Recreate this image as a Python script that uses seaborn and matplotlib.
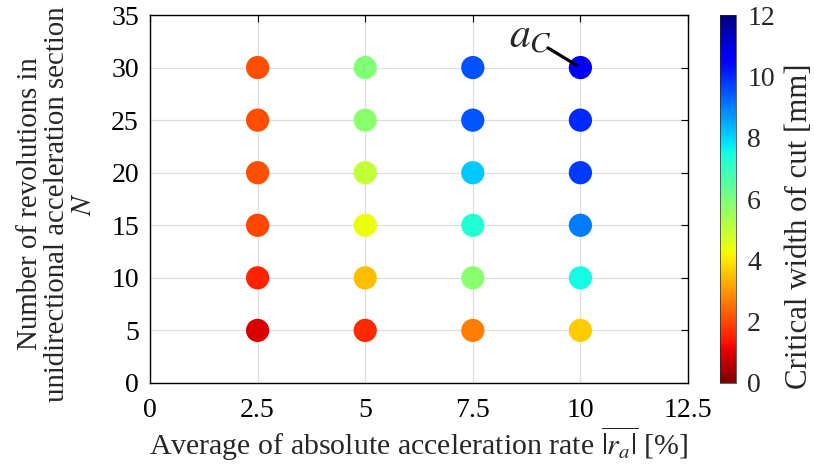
import numpy as np
import pandas as pd
import matplotlib
matplotlib.use("Agg")
import matplotlib.pyplot as plt
import seaborn as sns

# Data
rates = [2.5, 5.0, 7.5, 10.0]
revolutions = [5, 10, 15, 20, 25, 30]
# critical width of cut [mm]; rows = revolutions (5..30), cols = rates
width_cut = [
    [0.95, 1.6, 2.7, 3.7],   # N=5
    [1.5, 3.5, 5.8, 7.5],    # N=10
    [2.0, 4.4, 7.3, 9.0],    # N=15
    [2.1, 5.0, 8.15, 9.8],   # N=20
    [2.1, 5.8, 9.5, 10.0],   # N=25
    [2.1, 5.95, 9.55, 10.7], # N=30
]
x_ticklabels = ["0", "2.5", "5", "7.5", "10", "12.5"]

rows = []
for i, n in enumerate(revolutions):
    for j, r in enumerate(rates):
        rows.append({"rate": r, "N": n, "w": width_cut[i][j]})
df = pd.DataFrame(rows)

sns.set_style("white")
plt.rcParams["font.family"] = ["Liberation Serif", "DejaVu Serif"]
plt.rcParams["mathtext.fontset"] = "stix"

FS = 20
fig = plt.figure(figsize=(8.14, 4.65), dpi=100)
ax = fig.add_axes([150/814, 1-383/465, (688-150)/814, (383-15)/465])
cax = fig.add_axes([720/814, 1-383/465, 16/814, (383-15)/465])

norm = matplotlib.colors.Normalize(0, 12)
sns.scatterplot(data=df, x="rate", y="N", hue="w", palette="jet_r", hue_norm=(0, 12),
                s=280, linewidth=0, legend=False, ax=ax, zorder=3)

ax.set_xlim(0, 12.5)
ax.set_ylim(0, 35)
ax.set_xticks([0, 2.5, 5, 7.5, 10, 12.5])
ax.set_xticklabels(x_ticklabels)
ax.set_yticks(range(0, 36, 5))
ax.grid(True, color="#dedede", linewidth=0.9, zorder=0)
ax.set_axisbelow(True)
for sp in ax.spines.values():
    sp.set_color("black")
    sp.set_linewidth(1.0)
ax.tick_params(axis="both", direction="in", length=5, width=0.8, labelsize=FS,
               top=True, right=True, colors="black", labelcolor="black", pad=8)
ax.tick_params(axis="x", pad=11)
ax.set_xlabel(r"Average of absolute acceleration rate $\overline{|r_a|}$ [%]", fontsize=21.5, labelpad=1)
ax.set_ylabel("Number of revolutions in\nunidirectional acceleration section\n$N$",
              fontsize=20.8, linespacing=1.05)
ax.yaxis.set_label_coords(-0.0985, 0.487)

ax.annotate(r"$a_C$", xy=(10, 30), xytext=(8.83, 32.9), fontsize=30,
            ha="center", va="center",
            arrowprops=dict(arrowstyle="-", color="black", lw=2.3, patchA=None,
                            shrinkA=15, shrinkB=3))

sm = matplotlib.cm.ScalarMappable(norm=norm, cmap="jet_r")
cb = fig.colorbar(sm, cax=cax)
cb.set_ticks(range(0, 13, 2))
cb.ax.tick_params(labelsize=FS, length=0, pad=8)
cb.outline.set_linewidth(0.5)
cb.set_label("Critical width of cut [mm]", fontsize=22.2)
cb.ax.yaxis.set_label_coords(4.06, 0.427)

fig.savefig("out.png", dpi=100)
